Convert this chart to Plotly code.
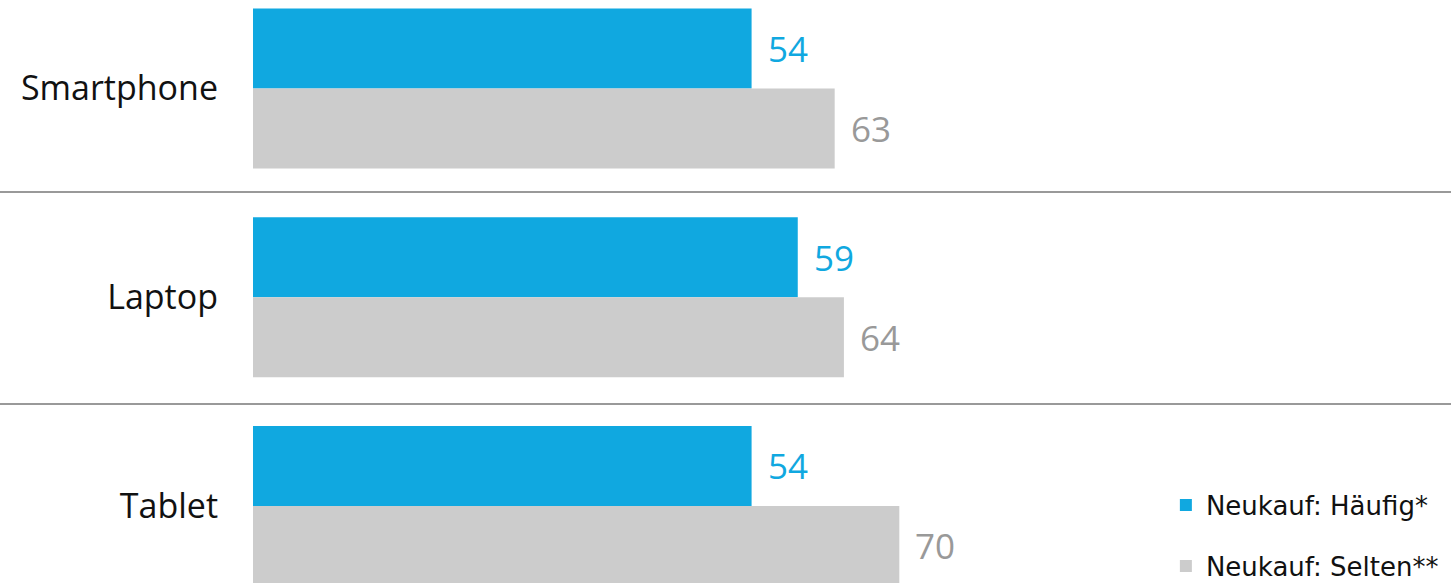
import plotly.graph_objects as go

categories = ["Smartphone", "Laptop", "Tablet"]
series_names = ["Neukauf: Häufig*", "Neukauf: Selten**"]
haeufig = [54, 59, 54]
selten = [63, 64, 70]

BLUE = "#10a8e0"
GRAY = "#cccccc"
GRAY_TXT = "#999999"

fig = go.Figure()
fig.add_trace(go.Bar(y=categories, x=haeufig, name=series_names[0], orientation="h",
                     marker=dict(color=BLUE, line=dict(width=0)), legend="legend"))
fig.add_trace(go.Bar(y=categories, x=selten, name=series_names[1], orientation="h",
                     marker=dict(color=GRAY, line=dict(width=0)), legend="legend2"))

annotations = []
for cat, v in zip(categories, haeufig):
    annotations.append(dict(x=v, y=cat, xref="x", yref="y", text=str(v), showarrow=False,
                            xanchor="left", yanchor="middle", xshift=14, yshift=40,
                            font=dict(family="Open Sans", size=35, color=BLUE)))
for cat, v in zip(categories, selten):
    annotations.append(dict(x=v, y=cat, xref="x", yref="y", text=str(v), showarrow=False,
                            xanchor="left", yanchor="middle", xshift=14, yshift=-40,
                            font=dict(family="Open Sans", size=35, color=GRAY_TXT)))

shapes = []
for yp in [1 - 192 / 583, 1 - 404 / 583]:
    shapes.append(dict(type="line", xref="paper", yref="paper", x0=-253 / 1198, x1=1, y0=yp, y1=yp,
                       line=dict(color="#777777", width=1.5)))

fig.update_layout(
    width=1451, height=583,
    margin=dict(l=253, r=0, t=0, b=0, autoexpand=False),
    paper_bgcolor="white", plot_bgcolor="white",
    barmode="group", bargap=0.233, bargroupgap=0,
    xaxis=dict(range=[0, 129.75], visible=False, showgrid=False, zeroline=False),
    yaxis=dict(range=[2.369, -0.424], showgrid=False, zeroline=False, showline=False,
               ticks="", ticklabelstandoff=34,
               tickfont=dict(family="Open Sans", size=34, color="#111111"), automargin=False),
    showlegend=True,
    legend=dict(x=0.762, y=1 - 505 / 583, xanchor="left", yanchor="middle", yref="container",
                font=dict(family="DejaVu Sans", size=26, color="#111111"),
                bgcolor="rgba(0,0,0,0)", itemclick=False),
    legend2=dict(x=0.762, y=1 - 566 / 583, xanchor="left", yanchor="middle", yref="container",
                 font=dict(family="DejaVu Sans", size=26, color="#111111"),
                 bgcolor="rgba(0,0,0,0)", itemclick=False),
    annotations=annotations,
    shapes=shapes,
)

fig.write_html("out.html", config={"displayModeBar": False},
               post_script="document.body.style.margin='0';document.body.style.overflow='hidden';")
